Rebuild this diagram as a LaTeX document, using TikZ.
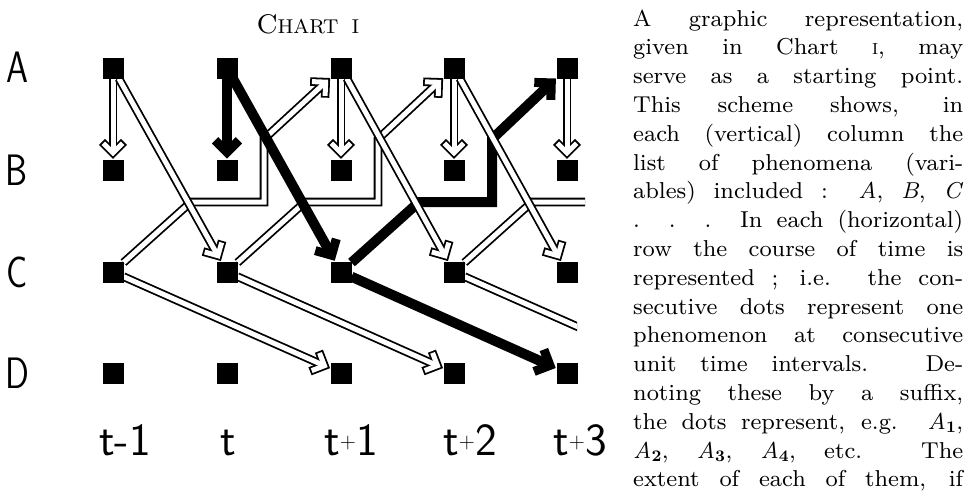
\documentclass[tikz,border=0pt]{standalone}
\usepackage{fontspec}
\newfontfamily\bodyfont{lmroman8-regular.otf}[ItalicFont=lmroman8-italic.otf, BoldFont=lmroman8-bold.otf]
\newfontfamily\labfont{lmsans17-regular.otf}
\usetikzlibrary{calc}
\pgfdeclarelayer{front}
\pgfsetlayers{main,front}
\tikzset{
  outl/.style={draw=black, line width=8.6pt, line join=miter, line cap=butt},
  inl/.style={draw=white, line width=5pt, line join=miter, line cap=butt},
  sol/.style={draw=black, line width=10pt, line join=miter, line cap=butt},
  solhead/.style={draw=black, line width=9pt, line join=miter, line cap=butt},
  sq/.style={fill=black, draw=none, minimum size=21pt, inner sep=0pt, outer sep=0pt},
  rowlab/.style={inner sep=0pt, font=\fontsize{44}{44}\selectfont\labfont},
  collab/.style={inner sep=0pt, anchor=base, font=\fontsize{46}{46}\selectfont\labfont},
}
% hollow arrow: #1 path up to last vertex, #2 last vertex, #3 target node
\newcommand\hollowarrow[3]{%
  \path #2 -- (#3) coordinate[pos=1] (ee);
  \coordinate (pp) at ($(ee)!6.6pt!#2$);
  \coordinate (ll) at ($(pp)!15.5pt!45:#2$);
  \coordinate (rr) at ($(pp)!15.5pt!-45:#2$);
  \coordinate (lw) at ($(pp)!13.7pt!45:#2$);
  \coordinate (rw) at ($(pp)!13.7pt!-45:#2$);
  \draw[outl] #1 -- (pp);
  \draw[outl] (ll) -- (pp) -- (rr);
  \draw[inl] #1 -- (pp);
  \draw[inl] (lw) -- (pp) -- (rw);
}
\newcommand\solidarrow[3]{%
  \path #2 -- (#3) coordinate[pos=1] (ee);
  \coordinate (pp) at ($(ee)!7.2pt!#2$);
  \coordinate (ll) at ($(pp)!17pt!45:#2$);
  \coordinate (rr) at ($(pp)!17pt!-45:#2$);
  \draw[sol] #1 -- (pp);
  \draw[solhead] (ll) -- (pp) -- (rr);
}
\newcommand\tplus{\raisebox{7pt}{\fontsize{22}{22}\selectfont +}}
\newcommand\sub[1]{\textsubscript{\textbf{#1}}}
\begin{document}
\begin{tikzpicture}[x=1pt,y=1pt]
\useasboundingbox (0,0) rectangle (973,-499);
% squares on the front layer
\begin{pgfonlayer}{front}
\foreach \i/\x in {1/113,2/227,3/341,4/454,5/567}{
  \node[sq] (a\i) at (\x,-68) {};
  \node[sq] (b\i) at (\x,-170) {};
  \node[sq] (c\i) at (\x,-272) {};
  \node[sq] (d\i) at (\x,-373) {};
}
\end{pgfonlayer}
\foreach \i/\x in {1/113,2/227,3/341,4/454}{
  \coordinate (e\i1) at (\x+78,-202);
  \coordinate (e\i2) at (\x+151,-202);
  \coordinate (e\i3) at (\x+151,-139);
}
% C -> D
\hollowarrow{(c1)}{(c1)}{d3}
\hollowarrow{(c2)}{(c2)}{d4}
\begin{scope}
  \clip (0,0) rectangle (577,-499);
  \coordinate (f1) at (682,-373);
  \draw[outl] (c4) -- (f1);
  \draw[inl] (c4) -- (f1);
\end{scope}
% A -> B
\hollowarrow{(a1)}{(a1)}{b1}
\solidarrow{(a2)}{(a2)}{b2}
\hollowarrow{(a3)}{(a3)}{b3}
\hollowarrow{(a4)}{(a4)}{b4}
\hollowarrow{(a5)}{(a5)}{b5}
% C -> A (stepped) and A -> C
\hollowarrow{(c1) -- (e11) -- (e12) -- (e13)}{(e13)}{a3}
\hollowarrow{(c2) -- (e21) -- (e22) -- (e23)}{(e23)}{a4}
\hollowarrow{(a1)}{(a1)}{c2}
\solidarrow{(a2)}{(a2)}{c3}
\solidarrow{(c3) -- (e31) -- (e32) -- (e33)}{(e33)}{a5}
\hollowarrow{(a3)}{(a3)}{c4}
\begin{scope}
  \clip (0,0) rectangle (585,-499);
  \coordinate (f2) at (700,-202);
  \draw[outl] (c4) -- (e41) -- (f2);
  \draw[inl] (c4) -- (e41) -- (f2);
\end{scope}
\hollowarrow{(a4)}{(a4)}{c5}
\solidarrow{(c3)}{(c3)}{d5}
% row labels
\node[rowlab] (la) at (17,-67) {\scalebox{0.8}[1]{A}};
\node[rowlab] (lb) at (17,-170) {\scalebox{0.8}[1]{B}};
\node[rowlab] (lc) at (17,-272) {\scalebox{0.8}[1]{C}};
\node[rowlab] (ld) at (17,-373) {\scalebox{0.8}[1]{D}};
% column labels
\node[collab] (t1) at (125,-455) {t-1};
\node[collab] (t2) at (228,-455) {t};
\node[collab] (t3) at (351,-455) {t\tplus 1};
\node[collab] (t4) at (470,-455) {t\tplus 2};
\node[collab] (t5) at (580,-455) {t\tplus 3};
% title
\node[anchor=base, inner sep=0pt] (title) at (308,-33)
  {\bodyfont\fontsize{27}{27}\selectfont C\fontsize{20}{20}\selectfont HART\hspace{13pt}I};
% body text
\node[anchor=base west, inner sep=0pt] (body) at (633,-26) {\parbox[t]{330pt}{\bodyfont\fontsize{23}{28.8}\selectfont
\makebox[\linewidth][s]{A graphic representation,}\par
\makebox[\linewidth][s]{given in Chart {\fontsize{16}{16}\selectfont I}, may}\par
\makebox[\linewidth][s]{serve as a starting point.}\par
\makebox[\linewidth][s]{This scheme shows, in}\par
\makebox[\linewidth][s]{each (vertical) column the}\par
\makebox[\linewidth][s]{list of phenomena (vari-}\par
\makebox[\linewidth][s]{ables) included : \textit{A}, \textit{B}, \textit{C}}\par
\makebox[\linewidth][s]{. . . In each (horizontal)}\par
\makebox[\linewidth][s]{row the course of time is}\par
\makebox[\linewidth][s]{represented ; i.e. the con-}\par
\makebox[\linewidth][s]{secutive dots represent one}\par
\makebox[\linewidth][s]{phenomenon at consecutive}\par
\makebox[\linewidth][s]{unit time intervals. De-}\par
\makebox[\linewidth][s]{noting these by a suffix,}\par
\makebox[\linewidth][s]{the dots represent, e.g. \textit{A}\sub{1},}\par
\makebox[\linewidth][s]{\textit{A}\sub{2}, \textit{A}\sub{3}, \textit{A}\sub{4}, etc. The}\par
\makebox[\linewidth][s]{extent of each of them, if}}};
\end{tikzpicture}
\end{document}
